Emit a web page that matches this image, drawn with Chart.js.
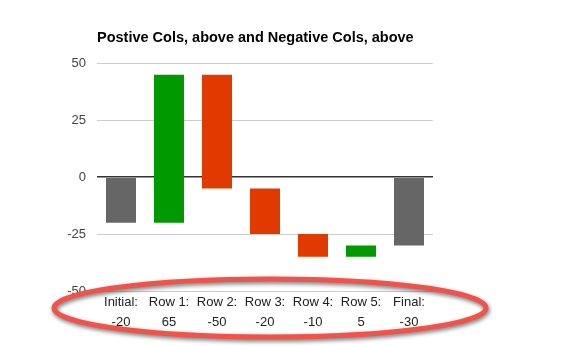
<!DOCTYPE html>
<html>
<head>
<meta charset="utf-8">
<script src="https://cdn.jsdelivr.net/npm/chart.js@4/dist/chart.umd.min.js"></script>
<style>
  html, body { margin: 0; padding: 0; background: #fff; }
  #wrap { width: 577px; height: 346px; }
</style>
</head>
<body>
<div id="wrap"><canvas id="waterfall"></canvas></div>
<script>
const categories = ['Initial:', 'Row 1:', 'Row 2:', 'Row 3:', 'Row 4:', 'Row 5:', 'Final:'];
const deltas = [-20, 65, -50, -20, -10, 5, -30];
const barStart = [0, -20, 45, -5, -25, -35, 0];
const barEnd = [-20, 45, -5, -25, -35, -30, -30];
const barKind = ['total', 'up', 'down', 'down', 'down', 'up', 'total'];
const yTicks = [50, 25, 0, -25, -50];

const kindColors = { total: '#666666', up: '#009900', down: '#e03a00' };

// red ring drawn round the category labels
const ringPlugin = {
    id: 'ring',
    afterDraw(chart) {
        const ctx = chart.ctx;
        ctx.save();
        ctx.shadowColor = 'rgba(0,0,0,0.55)';
        ctx.shadowBlur = 4;
        ctx.shadowOffsetX = 1;
        ctx.shadowOffsetY = 2;
        ctx.strokeStyle = '#f0534a';
        ctx.lineWidth = 5;
        ctx.beginPath();
        ctx.ellipse(270, 308, 216, 29, 0, 0, Math.PI * 2);
        ctx.stroke();
        ctx.restore();
    },
};

const ctx = document.getElementById('waterfall');
new Chart(ctx.getContext('2d'), {
    type: 'bar',
    data: {
        labels: categories.map((c, i) => [c, String(deltas[i])]),
        datasets: [{
            data: barStart.map((s, i) => [s, barEnd[i]]),
            backgroundColor: barKind.map(k => kindColors[k]),
            borderWidth: 0,
            categoryPercentage: 1,
            barPercentage: 0.625,
        }],
    },
    options: {
        responsive: true,
        maintainAspectRatio: false,
        animation: false,
        layout: {
            padding: { top: 20, right: 144, bottom: 0, left: 0 },
        },
        plugins: {
            legend: { display: false },
            tooltip: { enabled: false },
            title: {
                display: true,
                text: 'Postive Cols, above and Negative Cols, above',
                align: 'start',
                fullSize: false,
                color: '#000',
                font: { family: 'Liberation Sans, Arial, sans-serif', size: 14.5, weight: 'bold' },
                padding: { top: 9, bottom: 17 },
            },
        },
        scales: {
            y: {
                min: -50,
                max: 50,
                afterBuildTicks: (scale) => {
                    scale.ticks = yTicks.map(v => ({ value: v }));
                },
                afterFit: (scale) => { scale.width = 97; },
                ticks: {
                    color: '#444',
                    padding: 11,
                    font: { family: 'Liberation Sans, Arial, sans-serif', size: 13 },
                },
                grid: {
                    drawTicks: false,
                    color: (c) => (c.tick && c.tick.value === 0 ? '#333333' : '#cccccc'),
                    lineWidth: (c) => (c.tick && c.tick.value === 0 ? 1.5 : 1),
                },
                border: { display: false },
            },
            x: {
                afterFit: (scale) => { scale.height = 55; },
                ticks: {
                    color: '#222',
                    padding: 2,
                    maxRotation: 0,
                    font: { family: 'Liberation Sans, Arial, sans-serif', size: 13, lineHeight: 1.5 },
                },
                grid: { display: false, drawTicks: false },
                border: { display: false },
            },
        },
    },
    plugins: [ringPlugin],
});
</script>
</body>
</html>
